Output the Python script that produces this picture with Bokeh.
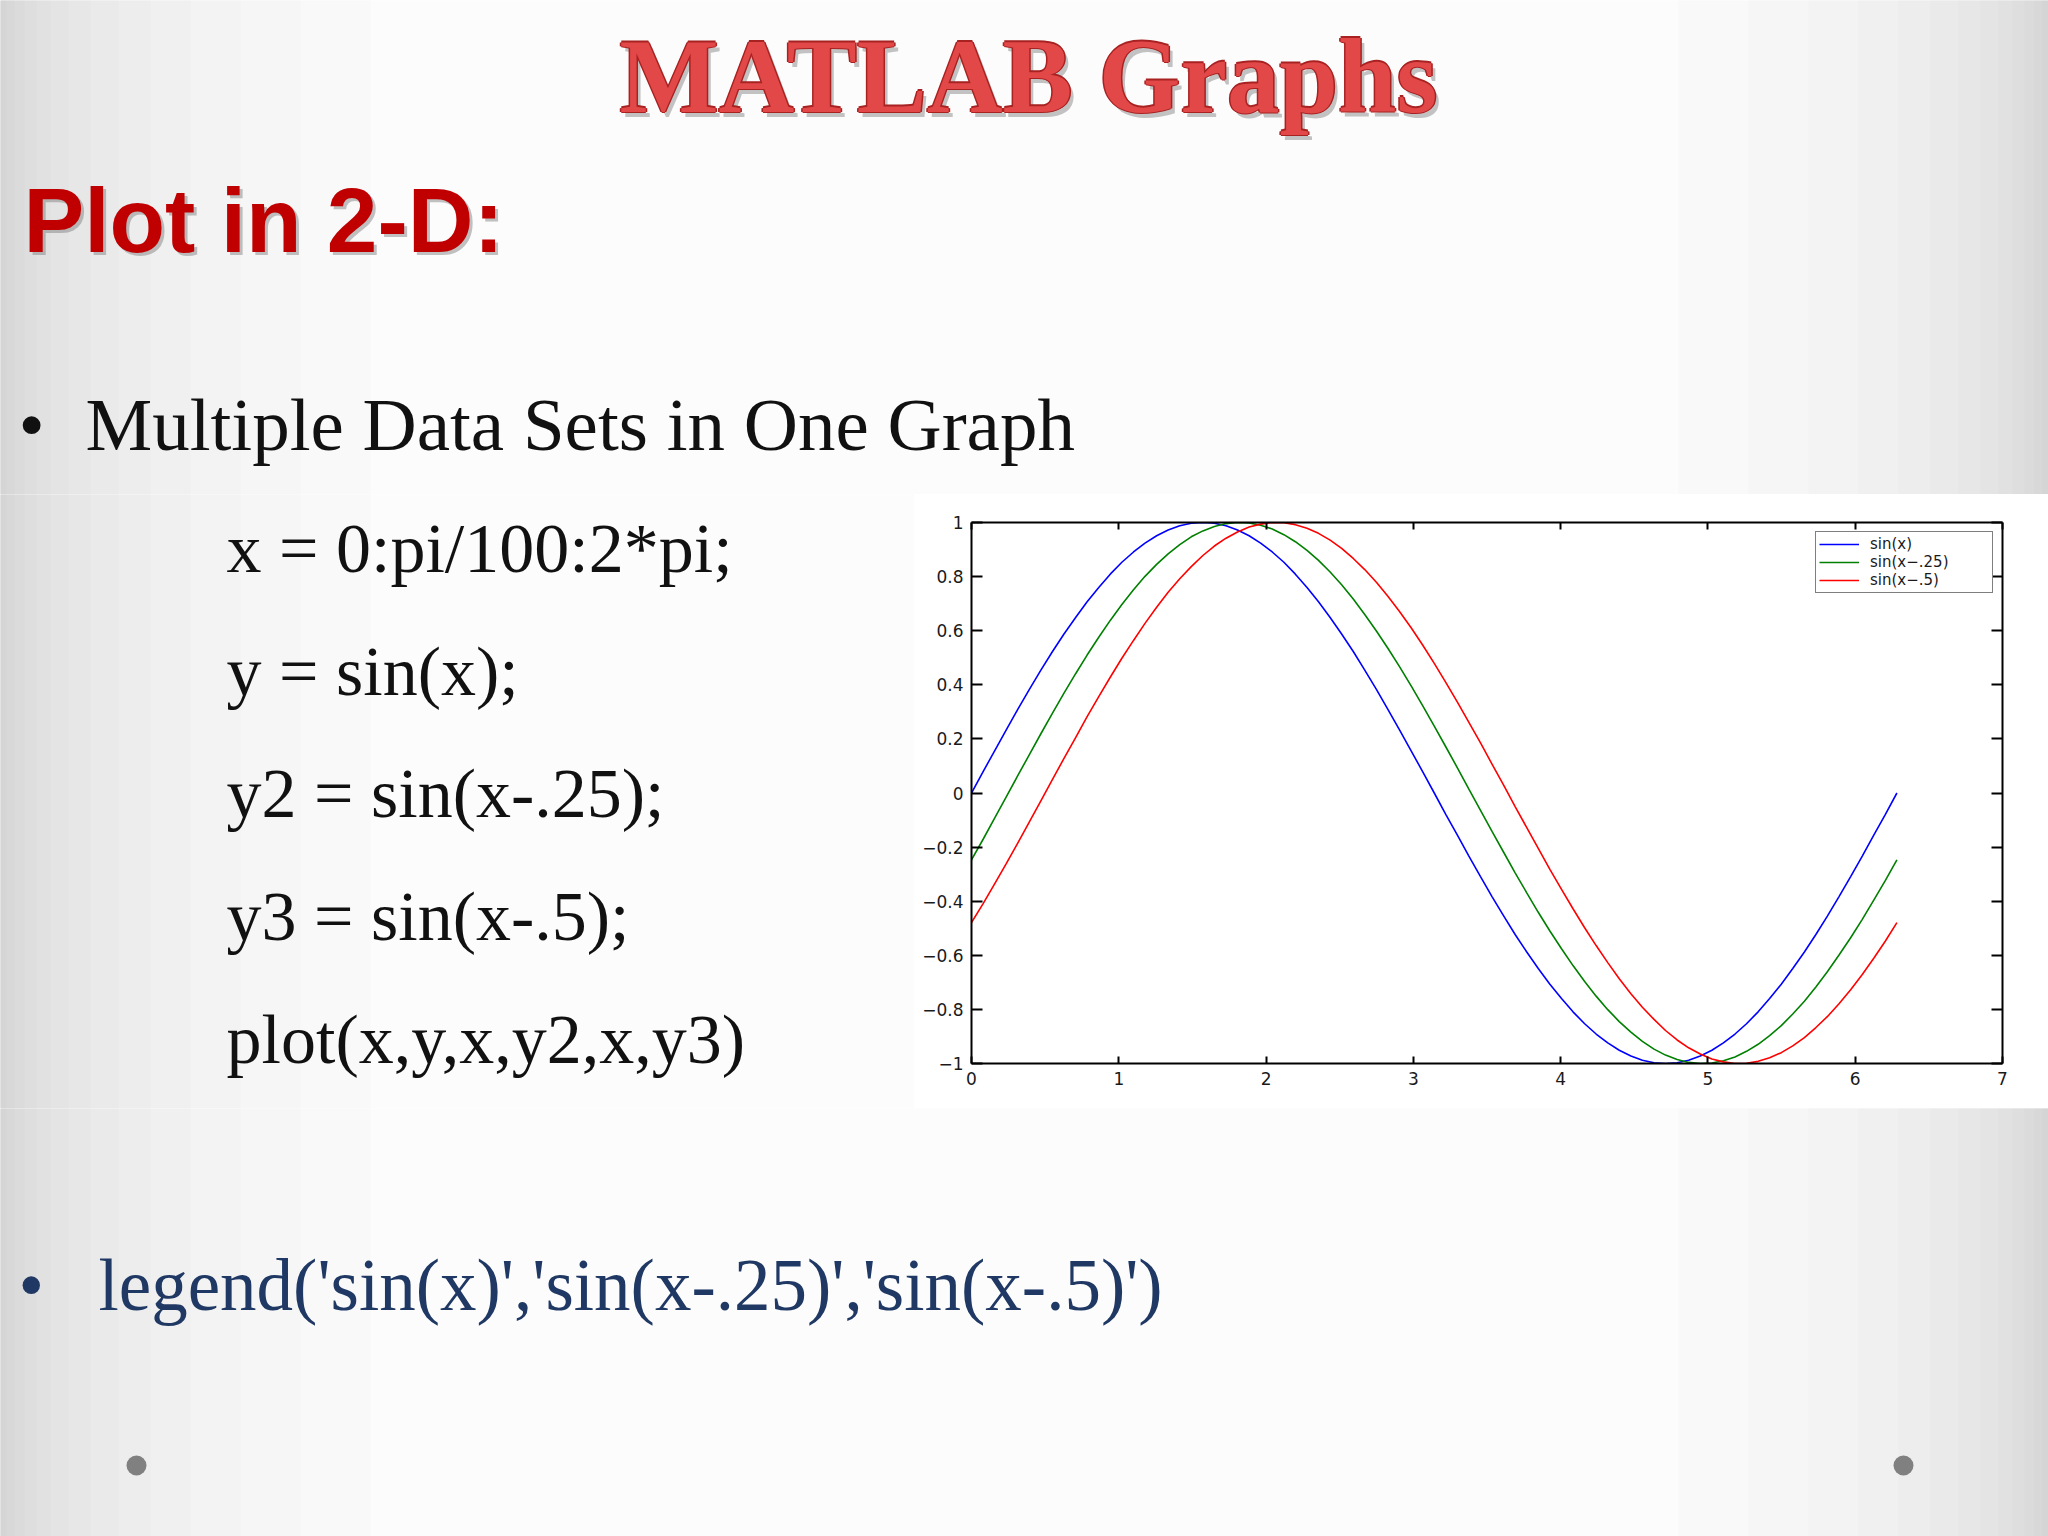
from bokeh.plotting import figure
from bokeh.layouts import column, row
from bokeh.models import Range1d, LinearAxis, FixedTicker, Label, BoxAnnotation
from bokeh.embed import file_html
from bokeh.resources import INLINE

# ---------------- data ----------------
x_vals = [0.000, 0.079, 0.157, 0.236, 0.314, 0.393, 0.471, 0.550, 0.628, 0.707,
          0.785, 0.864, 0.942, 1.021, 1.100, 1.178, 1.257, 1.335, 1.414, 1.492,
          1.571, 1.649, 1.728, 1.806, 1.885, 1.963, 2.042, 2.121, 2.199, 2.278,
          2.356, 2.435, 2.513, 2.592, 2.670, 2.749, 2.827, 2.906, 2.985, 3.063,
          3.142, 3.220, 3.299, 3.377, 3.456, 3.534, 3.613, 3.691, 3.770, 3.848,
          3.927, 4.006, 4.084, 4.163, 4.241, 4.320, 4.398, 4.477, 4.555, 4.634,
          4.712, 4.791, 4.869, 4.948, 5.027, 5.105, 5.184, 5.262, 5.341, 5.419,
          5.498, 5.576, 5.655, 5.733, 5.812, 5.890, 5.969, 6.048, 6.126, 6.205,
          6.283]
y_sin = [0.0, 0.079, 0.156, 0.233, 0.309, 0.383, 0.454, 0.523, 0.588, 0.649,
         0.707, 0.760, 0.809, 0.853, 0.891, 0.924, 0.951, 0.972, 0.988, 0.997,
         1.0, 0.997, 0.988, 0.972, 0.951, 0.924, 0.891, 0.853, 0.809, 0.760,
         0.707, 0.649, 0.588, 0.523, 0.454, 0.383, 0.309, 0.233, 0.156, 0.079,
         0.0, -0.079, -0.156, -0.233, -0.309, -0.383, -0.454, -0.523, -0.588, -0.649,
         -0.707, -0.760, -0.809, -0.853, -0.891, -0.924, -0.951, -0.972, -0.988, -0.997,
         -1.0, -0.997, -0.988, -0.972, -0.951, -0.924, -0.891, -0.853, -0.809, -0.760,
         -0.707, -0.649, -0.588, -0.523, -0.454, -0.383, -0.309, -0.233, -0.156, -0.079,
         0.0]
y_sin25 = [-0.247, -0.171, -0.093, -0.014, 0.064, 0.142, 0.219, 0.295, 0.369, 0.441,
           0.510, 0.576, 0.638, 0.697, 0.751, 0.801, 0.845, 0.884, 0.918, 0.947,
           0.969, 0.985, 0.996, 1.000, 0.998, 0.990, 0.976, 0.955, 0.929, 0.897,
           0.860, 0.817, 0.770, 0.717, 0.660, 0.599, 0.535, 0.467, 0.396, 0.323,
           0.247, 0.171, 0.093, 0.014, -0.064, -0.142, -0.219, -0.295, -0.369, -0.441,
           -0.510, -0.576, -0.638, -0.697, -0.751, -0.801, -0.845, -0.884, -0.918, -0.947,
           -0.969, -0.985, -0.996, -1.000, -0.998, -0.990, -0.976, -0.955, -0.929, -0.897,
           -0.860, -0.817, -0.770, -0.717, -0.660, -0.599, -0.535, -0.467, -0.396, -0.323,
           -0.247]
y_sin5 = [-0.479, -0.409, -0.336, -0.261, -0.185, -0.107, -0.029, 0.050, 0.128, 0.205,
          0.282, 0.356, 0.428, 0.498, 0.564, 0.627, 0.687, 0.742, 0.792, 0.837,
          0.878, 0.913, 0.942, 0.965, 0.983, 0.994, 1.000, 0.999, 0.992, 0.979,
          0.960, 0.935, 0.904, 0.867, 0.826, 0.779, 0.727, 0.671, 0.611, 0.547,
          0.479, 0.409, 0.336, 0.261, 0.185, 0.107, 0.029, -0.050, -0.128, -0.205,
          -0.282, -0.356, -0.428, -0.498, -0.564, -0.627, -0.687, -0.742, -0.792, -0.837,
          -0.878, -0.913, -0.942, -0.965, -0.983, -0.994, -1.000, -0.999, -0.992, -0.979,
          -0.960, -0.935, -0.904, -0.867, -0.826, -0.779, -0.727, -0.671, -0.611, -0.547,
          -0.479]
series_labels = ["sin(x)", "sin(x\u2212.25)", "sin(x\u2212.5)"]
series_colors = ["#0000ff", "#008000", "#ff0000"]

x_ticks = [0, 1, 2, 3, 4, 5, 6, 7]
x_tick_labels = ["0", "1", "2", "3", "4", "5", "6", "7"]
y_ticks = [-1.0, -0.8, -0.6, -0.4, -0.2, 0.0, 0.2, 0.4, 0.6, 0.8, 1.0]
y_tick_labels = ["\u22121", "\u22120.8", "\u22120.6", "\u22120.4", "\u22120.2", "0",
                 "0.2", "0.4", "0.6", "0.8", "1"]

title_text = "MATLAB Graphs"
heading_text = "Plot in 2-D:"
bullet1_text = "Multiple Data Sets in One Graph"
code_lines = ["x = 0:pi/100:2*pi;", "y = sin(x);", "y2 = sin(x-.25);",
              "y3 = sin(x-.5);", "plot(x,y,x,y2,x,y3)"]
bullet2_text = "legend('sin(x)','sin(x-.25)','sin(x-.5)')"

# ---------------- slide pieces (coordinates = page pixels) ----------------
BG = "#fcfcfc"
PW, PH = 2048, 1536
SHADE = [6, 14, 24, 36, 50, 68, 90, 118, 150, 190, 240, 300, 370]


def deco(x0, y0, w, h):
    f = figure(width=w, height=h, x_range=Range1d(x0, x0 + w), y_range=Range1d(y0 + h, y0),
               output_backend="svg", toolbar_location=None,
               x_axis_location=None, y_axis_location=None, min_border=0)
    f.frame_align = False
    f.grid.grid_line_color = None
    f.outline_line_color = None
    f.background_fill_color = BG
    f.border_fill_color = BG
    # soft shading towards the left and right slide edges
    for wd in SHADE:
        f.add_layout(BoxAnnotation(left=-10, right=wd, top=y0 - 10, bottom=y0 + h + 10,
                                   fill_color="#8e8e94", fill_alpha=0.022,
                                   line_color=None, level="underlay"))
        f.add_layout(BoxAnnotation(left=PW - wd, right=PW + 10, top=y0 - 10, bottom=y0 + h + 10,
                                   fill_color="#8e8e94", fill_alpha=0.022,
                                   line_color=None, level="underlay"))
    return f


def lab(f, text, x, y, font, size, color, style="normal", alpha=1.0):
    # y is the wanted baseline; the label is anchored 0.3 em above it
    f.add_layout(Label(x=x, y=y - 0.3 * size, text=text, text_font=font,
                       text_font_size=f"{size}px",
                       text_color=color, text_font_style=style, text_alpha=alpha,
                       text_baseline="alphabetic", text_align="left"))


# top strip: title, heading, first bullet
top = deco(0, 0, PW, 494)
lab(top, title_text, 619 + 4, 107 + 5, "Liberation Serif", 105, "#555555", "bold", 0.35)
for dx, dy in [(-1.5, 0), (1.5, 0), (0, -1.5), (0, 1.5)]:
    lab(top, title_text, 619 + dx, 107 + dy, "Liberation Serif", 105, "#a82222", "bold")
lab(top, title_text, 619, 107, "Liberation Serif", 105, "#e24848", "bold")
lab(top, heading_text, 23 + 3, 247 + 3, "Liberation Sans", 91, "#777777", "bold", 0.45)
lab(top, heading_text, 23, 247, "Liberation Sans", 91, "#c00000", "bold")
lab(top, "\u2022", 18, 446, "Liberation Serif", 75, "#111111")
lab(top, bullet1_text, 85, 446, "Liberation Serif", 75, "#111111")

# middle-left: code lines
mid = deco(0, 494, 914, 614)
for txt, yb in zip(code_lines, [569, 692, 814, 937, 1060]):
    lab(mid, txt, 226, yb, "Liberation Serif", 70, "#111111")

# bottom strip: second bullet and the two dots
bot = deco(0, 1108, PW, 428)
lab(bot, "\u2022", 18, 1307, "Liberation Serif", 73, "#1f3864")
lab(bot, bullet2_text, 98, 1307, "Liberation Serif", 73, "#1f3864")
for cx in [136, 1903]:
    bot.add_layout(BoxAnnotation(left=cx - 10, right=cx + 10, top=1455, bottom=1475,
                                 fill_color="#808080", fill_alpha=1.0, line_color=None,
                                 border_radius=10, level="underlay"))

# ---------------- the graph ----------------
p = figure(width=1134, height=614, x_range=Range1d(0, 7), y_range=Range1d(-1, 1),
           output_backend="svg", toolbar_location=None,
           x_axis_location=None, y_axis_location=None,
           min_border_left=57, min_border_right=46, min_border_top=28, min_border_bottom=45)
p.frame_align = False
p.grid.grid_line_color = None
p.background_fill_color = "white"
p.border_fill_color = "white"
p.outline_line_color = None

for ys, name, col in zip([y_sin, y_sin25, y_sin5], series_labels, series_colors):
    p.line(x_vals, ys, line_color=col, line_width=1.6, legend_label=name)


def make_axis(ticks, labels, show, tick_len):
    ax = LinearAxis(ticker=FixedTicker(ticks=ticks))
    ax.major_label_overrides = dict(zip(ticks, labels if show else [""] * len(ticks)))
    ax.major_tick_in = tick_len
    ax.major_tick_out = 0
    ax.minor_tick_line_color = None
    ax.axis_line_width = 2
    ax.axis_line_color = "black"
    ax.major_tick_line_width = 2
    ax.major_tick_line_color = "black"
    ax.major_label_text_font = "DejaVu Sans"
    ax.major_label_text_font_size = "17px" if show else "0px"
    ax.major_label_text_color = "#1a1a1a"
    ax.major_label_standoff = 8
    return ax


p.add_layout(make_axis(x_ticks, x_tick_labels, True, 7), "below")
p.add_layout(make_axis(y_ticks, y_tick_labels, True, 11), "left")
p.add_layout(make_axis(x_ticks, x_tick_labels, False, 7), "above")
p.add_layout(make_axis(y_ticks, y_tick_labels, False, 11), "right")

lg = p.legend[0]
lg.location = "top_right"
lg.border_line_color = "black"
lg.border_line_width = 1.5
lg.background_fill_color = "white"
lg.background_fill_alpha = 1.0
lg.label_text_font = "DejaVu Sans"
lg.label_text_font_size = "15px"
lg.label_text_color = "#1a1a1a"
lg.glyph_width = 40
lg.glyph_height = 14
lg.label_height = 14
lg.label_width = 119
lg.label_standoff = 11
lg.spacing = 0
lg.padding = 3
lg.margin = 9

page = column(top, row(mid, p), bot)
open("out.html", "w").write(file_html(page, INLINE))
